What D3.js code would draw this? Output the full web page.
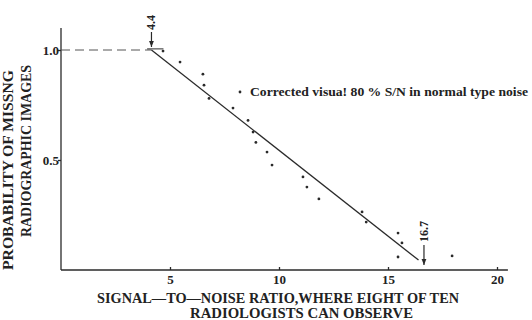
<!DOCTYPE html>
<html>
<head>
<meta charset="utf-8">
<script src="https://cdn.jsdelivr.net/npm/d3@7"></script>
<style>
  body { margin: 0; background: #fff; }
  svg { display: block; }
  text { font-family: "Liberation Serif", "DejaVu Serif", serif; fill: #222; }
</style>
</head>
<body>
<svg width="532" height="320"></svg>
<script>
// observed points (S/N ratio, probability of missing)
let snr = [4.68, 5.46, 6.51, 6.56, 6.79, 7.89, 8.58, 8.81, 8.94, 9.45, 9.68,
           11.1, 11.28, 11.83, 13.81, 14.0, 15.46, 15.64, 15.46, 17.94];
let prob = [0.995, 0.945, 0.89, 0.84, 0.78, 0.736, 0.68, 0.627, 0.58, 0.536, 0.477,
            0.423, 0.377, 0.323, 0.264, 0.218, 0.168, 0.123, 0.059, 0.064];

// fitted line: flat part then the slope
let fitX = [4.15, 16.4];
let fitY = [1.0, 0.045];

let xTicks = [5, 10, 15, 20];
let yTicks = [0.5, 1.0];

let arrowX = [4.15, 16.65];
let arrowLabels = ["4.4", "16.7"];

let legendText = "Corrected  visua! 80 % S/N  in normal type noise";

let svg = d3.select("svg");

let x = d3.scaleLinear().domain([0, 20]).range([61, 497]);
let y = d3.scaleLinear().domain([0, 1]).range([270, 50]);

let ink = "#2a2a2a";

// axes
let xAxis = svg.append("g").attr("transform", "translate(0," + y(0) + ")")
    .call(d3.axisBottom(x).tickValues(xTicks).tickSize(3).tickFormat(d3.format("d")));
xAxis.select(".domain").attr("d", "M" + x(0) + ",0H" + x(20.5));
let yAxis = svg.append("g").attr("transform", "translate(" + x(0) + ",0)")
    .call(d3.axisLeft(y).tickValues(yTicks).tickSize(3).tickFormat(d3.format(".1f")));
yAxis.select(".domain").attr("d", "M0," + y(0) + "V" + y(1.1));

svg.selectAll(".domain, .tick line").attr("stroke", ink).attr("stroke-width", 1.3);
xAxis.selectAll(".tick line").attr("y2", -3);
yAxis.selectAll(".tick line").attr("x2", 0).attr("x1", -3);
svg.selectAll(".tick text")
    .style("font-family", "'Liberation Serif', serif")
    .attr("font-size", 13).attr("font-weight", "bold").attr("fill", ink);
xAxis.selectAll(".tick text").attr("y", 5);
yAxis.selectAll(".tick text").attr("x", -2);

// dashed level at 1.0
svg.append("line")
    .attr("x1", x(0)).attr("x2", x(fitX[0]))
    .attr("y1", y(1)).attr("y2", y(1))
    .attr("stroke", "#555").attr("stroke-width", 1)
    .attr("stroke-dasharray", "9,5");
svg.append("line")
    .attr("x1", x(fitX[0] - 0.2)).attr("x2", x(fitX[0] + 0.55))
    .attr("y1", y(1.005)).attr("y2", y(1.005))
    .attr("stroke", ink).attr("stroke-width", 1);

// fitted line
svg.append("line")
    .attr("x1", x(fitX[0])).attr("y1", y(fitY[0]))
    .attr("x2", x(fitX[1])).attr("y2", y(fitY[1]))
    .attr("stroke", ink).attr("stroke-width", 1.3);

// points
svg.selectAll(".pt").data(d3.range(snr.length)).enter().append("circle")
    .attr("class", "pt")
    .attr("cx", i => x(snr[i])).attr("cy", i => y(prob[i]))
    .attr("r", 1.4).attr("fill", ink);

// arrows with rotated labels
svg.append("defs").append("marker")
    .attr("id", "head").attr("viewBox", "0 0 10 10")
    .attr("refX", 10).attr("refY", 5)
    .attr("markerWidth", 5).attr("markerHeight", 6)
    .attr("orient", "auto")
  .append("path").attr("d", "M0,1L10,5L0,9Z").attr("fill", ink);

let arrowTop = [y(1.0) - 18, y(0) - 25];
let arrowBot = [y(1.0) - 3, y(0) - 5];
let labelBottom = [y(1.0) - 20, y(0) - 28];
arrowX.forEach((v, i) => {
    svg.append("line")
        .attr("x1", x(v)).attr("x2", x(v))
        .attr("y1", arrowTop[i]).attr("y2", arrowBot[i])
        .attr("stroke", ink).attr("stroke-width", 1.2)
        .attr("marker-end", "url(#head)");
    svg.append("text")
        .attr("transform", "translate(" + (x(v) + 4) + "," + labelBottom[i] + ") rotate(-90)")
        .attr("font-size", 12).attr("font-weight", "bold")
        .text(arrowLabels[i]);
});

// legend
svg.append("circle").attr("cx", 240).attr("cy", 92).attr("r", 1.4).attr("fill", ink);
svg.append("text").attr("x", 250).attr("y", 96)
    .attr("font-size", 12.5).attr("font-weight", "bold")
    .attr("textLength", 278).attr("lengthAdjust", "spacingAndGlyphs")
    .text(legendText);

// axis titles
svg.append("text")
    .attr("transform", "translate(13,170) rotate(-90)")
    .attr("text-anchor", "middle").attr("font-size", 14).attr("font-weight", "bold")
    .attr("textLength", 200).attr("lengthAdjust", "spacingAndGlyphs")
    .text("PROBABILITY OF MISSNG");
svg.append("text")
    .attr("transform", "translate(31,151) rotate(-90)")
    .attr("text-anchor", "middle").attr("font-size", 14).attr("font-weight", "bold")
    .attr("textLength", 172).attr("lengthAdjust", "spacingAndGlyphs")
    .text("RADIOGRAPHIC IMAGES");

svg.append("text")
    .attr("x", 97).attr("y", 303)
    .attr("font-size", 14).attr("font-weight", "bold")
    .attr("textLength", 362).attr("lengthAdjust", "spacingAndGlyphs")
    .text("SIGNAL\u2014TO\u2014NOISE RATIO,WHERE  EIGHT OF TEN");
svg.append("text")
    .attr("x", 190).attr("y", 318)
    .attr("font-size", 14).attr("font-weight", "bold")
    .attr("textLength", 223).attr("lengthAdjust", "spacingAndGlyphs")
    .text("RADIOLOGISTS CAN  OBSERVE");
</script>
</body>
</html>
